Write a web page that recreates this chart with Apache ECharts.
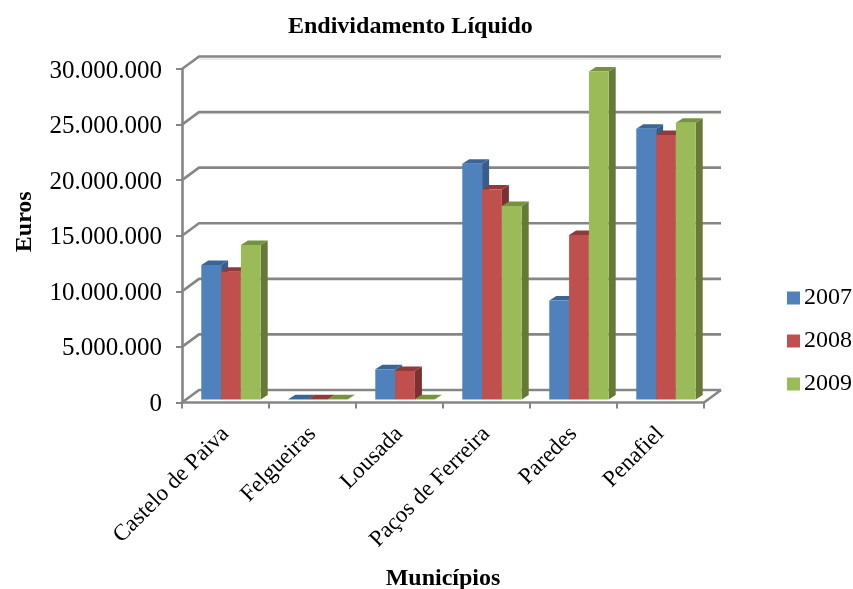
<!DOCTYPE html>
<html><head><meta charset="utf-8">
<style>html,body{margin:0;padding:0;background:#fff}#c{width:853px;height:589px}</style>
<script src="https://cdn.jsdelivr.net/npm/echarts@6/dist/echarts.min.js"></script>
</head><body><div id="c"></div>
<script>
const categories = ["Castelo de Paiva","Felgueiras","Lousada","Paços de Ferreira","Paredes","Penafiel"];
const years = ["2007","2008","2009"];
const v2007 = [12100000,30000,2720000,21200000,8900000,24350000];
const v2008 = [11500000,30000,2570000,18900000,14800000,23800000];
const v2009 = [13900000,30000,30000,17400000,29500000,24900000];
const yTicks = [0,5000000,10000000,15000000,20000000,25000000,30000000];
const FONT = '"Liberation Serif","Times New Roman",serif';
const GRAY = '#868686';
const palettes = [
  {front:'#4f81bd',top:'#3a6595',side:'#385d8a'},
  {front:'#c0504d',top:'#8f3b39',side:'#7a3230'},
  {front:'#9bbb59',top:'#77923f',side:'#667a37'}
];
const DX = 17, DY = 12.5;   // depth of the back wall
const bx = 7, by = 4.5;     // depth of each bar
const barW = 19.8;
function fmt(v){return String(v).replace(/\B(?=(\d{3})+$)/g,'.');}

function barSeries(name,values,k){
  const p = palettes[k];
  return {
    type:'custom', name, z:5,
    itemStyle:{color:p.front},
    encode:{x:0,y:1},
    data:values.map((v,i)=>[i,v]),
    renderItem(params,api){
      const i = api.value(0), v = api.value(1);
      const c0 = api.coord([i,0]), c1 = api.coord([i,v]);
      const x = c0[0] + 5.5 + (k-1.5)*barW;
      const yB = c0[1] - 3, yT = c1[1] - 3;
      const w = barW;
      return {type:'group',children:[
        {type:'polygon',shape:{points:[[x+w,yB],[x+w+bx,yB-by],[x+w+bx,yT-by],[x+w,yT]]},style:{fill:p.side}},
        {type:'polygon',shape:{points:[[x,yT],[x+bx,yT-by],[x+w+bx,yT-by],[x+w,yT]]},style:{fill:p.top}},
        {type:'rect',shape:{x,y:yT,width:w,height:yB-yT},style:{fill:p.front}}
      ]};
    }
  };
}

const wall = {
  type:'custom', silent:true, z:1, legendHoverLink:false,
  encode:{y:0},
  data:yTicks.map(t=>[t]),
  renderItem(params,api){
    const t = api.value(0);
    const s = api.coord([0,t]);
    const r = params.coordSys;
    const x0 = r.x, x1 = r.x + r.width, y = s[1];
    const children = [{type:'polyline',shape:{points:[[x0,y],[x0+DX,y-DY],[x1+DX,y-DY]]},
      style:{stroke:GRAY,lineWidth:2.6,fill:null}}];
    if(t===0) children.push({type:'line',shape:{x1:x1,y1:y,x2:x1+DX,y2:y-DY},style:{stroke:GRAY,lineWidth:2.6}});
    if(t===yTicks[yTicks.length-1]) children.push({type:'line',shape:{x1:x0+DX,y1:y-DY+2.6,x2:x1+DX,y2:y-DY+2.6},style:{stroke:'#e4e4e4',lineWidth:1.5}});
    return {type:'group',children};
  }
};

const chart = echarts.init(document.getElementById('c'),null,{renderer:'canvas'});
chart.setOption({
  animation:false,
  backgroundColor:'#fff',
  title:{text:'Endividamento Líquido',left:288,top:15,padding:0,
    textStyle:{fontFamily:FONT,fontSize:24,fontWeight:'bold',color:'#000'}},
  legend:{orient:'vertical',left:787,top:286,padding:0,itemWidth:13,itemHeight:13,itemGap:19,
    icon:'rect',data:years,selectedMode:false,
    textStyle:{fontFamily:FONT,fontSize:24,color:'#000',padding:[0,0,0,-1]}},
  grid:{left:182,right:149,top:69,bottom:186.5,containLabel:false,outerBoundsMode:'none'},
  xAxis:{type:'category',data:categories,name:'Municípios',nameLocation:'middle',nameGap:164,
    nameTextStyle:{fontFamily:FONT,fontSize:24,fontWeight:'bold',color:'#000'},
    axisLine:{lineStyle:{color:GRAY,width:2.6}},
    axisTick:{show:true,length:6,lineStyle:{color:GRAY,width:2}},
    axisLabel:{rotate:45,interval:0,margin:28,fontFamily:FONT,fontSize:23,color:'#000'},
    splitLine:{show:false}},
  yAxis:{type:'value',min:0,max:30000000,interval:5000000,
    name:'Euros',nameLocation:'middle',nameGap:145,nameRotate:90,
    nameTextStyle:{fontFamily:FONT,fontSize:24,fontWeight:'bold',color:'#000',padding:[0,0,0,28]},
    axisLine:{show:true,lineStyle:{color:GRAY,width:2.6}},
    axisTick:{show:true,length:6,lineStyle:{color:GRAY,width:2}},
    axisLabel:{margin:20,verticalAlign:'top',lineHeight:4,formatter:fmt,fontFamily:FONT,fontSize:25,color:'#000'},
    splitLine:{show:false}},
  series:[wall,barSeries(years[0],v2007,0),barSeries(years[1],v2008,1),barSeries(years[2],v2009,2)]
});
</script></body></html>
